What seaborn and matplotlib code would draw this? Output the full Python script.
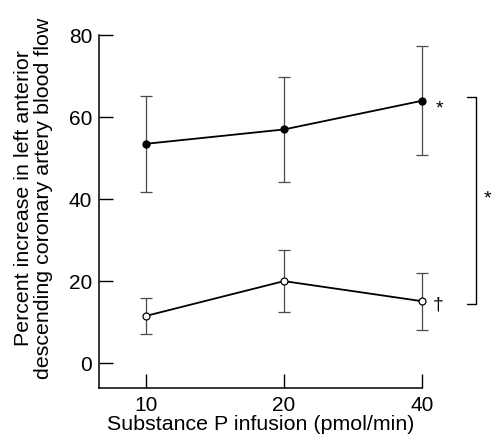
import numpy as np
import pandas as pd
import seaborn as sns
import matplotlib
matplotlib.use('Agg')
import matplotlib.pyplot as plt

# data
doses = ["10", "20", "40"]
filled_mean = [53.5, 57.0, 64.0]
filled_err = [11.7, 12.7, 13.3]
open_mean = [11.5, 20.0, 15.1]
open_err = [4.5, 7.5, 7.0]

sns.set_style("ticks")
plt.rcParams['font.family'] = ['Liberation Sans', 'DejaVu Sans']
plt.rcParams.update({"text.color": "black", "axes.labelcolor": "black",
                     "xtick.color": "black", "ytick.color": "black"})

fig = plt.figure(figsize=(4.92, 4.4), dpi=100)
ax = fig.add_axes([0.2012, 0.118, 0.6565, 0.802])

df = pd.DataFrame({
    "dose": doses * 2,
    "value": filled_mean + open_mean,
    "group": ["filled"] * 3 + ["open"] * 3,
})

# error bars first so markers sit on top
xpos = np.arange(len(doses))
for m, e in [(filled_mean, filled_err), (open_mean, open_err)]:
    ax.errorbar(xpos, m, yerr=e, fmt="none", ecolor="#4a4a4a",
                elinewidth=0.9, capsize=4.5, capthick=0.9, clip_on=False, zorder=2)

sns.pointplot(data=df[df.group == "filled"], x="dose", y="value", ax=ax,
              color="black", markers="o", linewidth=1.3, markersize=5,
              errorbar=None, order=doses)
sns.pointplot(data=df[df.group == "open"], x="dose", y="value", ax=ax,
              color="black", markers="o", linewidth=1.3, markersize=5,
              errorbar=None, order=doses)

# open circles: white face
for coll in ax.collections:
    coll.set_clip_on(False)
for line in ax.lines:
    line.set_clip_on(False)
    line.set_zorder(3)
ax.lines[-1].set_markerfacecolor("white")
ax.lines[-1].set_markeredgewidth(0.9)

ax.set_xlim(-0.34, 2.0)
ax.set_ylim(-6.1, 80)
ax.set_yticks([0, 20, 40, 60, 80])
ax.tick_params(direction="in", length=10, width=1, labelsize=15, color="black")
ax.tick_params(axis="y", pad=5)
ax.tick_params(axis="x", pad=6)
for s in ["top", "right"]:
    ax.spines[s].set_visible(False)
for s in ["left", "bottom"]:
    ax.spines[s].set_linewidth(1.1)
    ax.spines[s].set_color("black")

ax.set_xlabel("Substance P infusion (pmol/min)", fontsize=15.4)
ax.set_ylabel("Percent increase in left anterior\ndescending coronary artery blood flow",
              fontsize=15.4, linespacing=1.1)
ax.xaxis.set_label_coords(0.5, -0.075)
ax.yaxis.set_label_coords(-0.142, 0.538)

# significance marks
ax.annotate("*", (2, filled_mean[-1]), xytext=(10, -6), textcoords="offset points",
            fontsize=14, va="center", ha="left", annotation_clip=False)
ax.annotate("†", (2, open_mean[-1]), xytext=(8, -3), textcoords="offset points",
            fontsize=14, va="center", ha="left", annotation_clip=False)

bx, bt = 2.39, 2.325
ax.plot([bt, bx, bx, bt], [64.9, 64.9, 14.4, 14.4], color="black", lw=1.0, clip_on=False)
fig.text(0.999, 1 - 199 / 440, "*", fontsize=14, va="center", ha="right")

plt.savefig("out.png", dpi=100)
